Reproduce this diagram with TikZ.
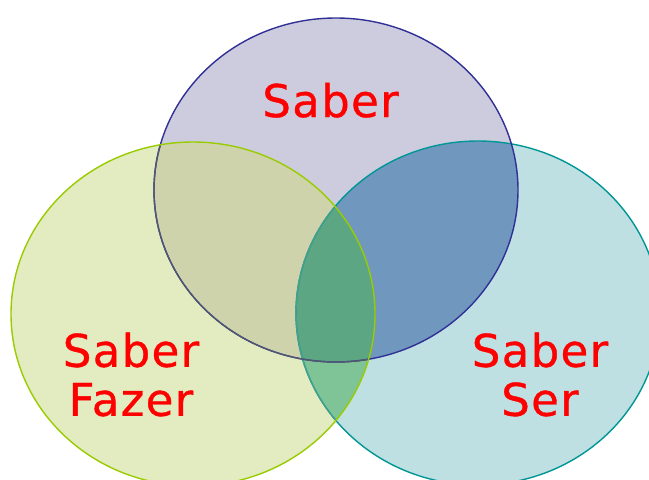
\documentclass[tikz,border=0pt]{standalone}
\usepackage{fontspec}
\setmainfont{DejaVu Sans}
\newfontfamily\setfont[LetterSpace=3,FakeBold=0.8]{DejaVu Sans}
% region fills
\definecolor{fillT}{RGB}{204,204,222}
\definecolor{fillL}{RGB}{227,235,192}
\definecolor{fillR}{RGB}{191,224,226}
\definecolor{fillTL}{RGB}{207,211,172}
\definecolor{fillTR}{RGB}{112,152,190}
\definecolor{fillLR}{RGB}{127,196,150}
\definecolor{fillTLR}{RGB}{92,166,132}
% rims
\definecolor{rimT}{RGB}{48,48,150}
\definecolor{rimL}{RGB}{153,204,0}
\definecolor{rimR}{RGB}{0,150,150}
\definecolor{rimTdim}{RGB}{80,88,112}
\definecolor{rimRdim}{RGB}{70,160,140}
\begin{document}
\begin{tikzpicture}[x=1pt,y=-1pt,
  setlabel/.style={text=red, font=\setfont\fontsize{45}{49}\selectfont, inner sep=0pt, align=center},
  rim/.style={line width=1.4pt}]
\useasboundingbox (0,0) rectangle (649,480);
\clip (0,0) rectangle (649,480);

\coordinate (ct) at (336,190);
\coordinate (cl) at (193,314);
\coordinate (cr) at (478,313);
\def\shapeT{(ct) ellipse [x radius=182, y radius=172]}
\def\shapeL{(cl) ellipse [x radius=182, y radius=172]}
\def\shapeR{(cr) ellipse [x radius=182, y radius=172]}

% single sets
\fill[fillT] \shapeT;
\fill[fillR] \shapeR;
\fill[fillL] \shapeL;
% pairwise overlaps
\begin{scope}\clip \shapeT; \fill[fillTL] \shapeL; \end{scope}
\begin{scope}\clip \shapeT; \fill[fillTR] \shapeR; \end{scope}
\begin{scope}\clip \shapeL; \fill[fillLR] \shapeR; \end{scope}
% centre
\begin{scope}\clip \shapeT; \clip \shapeL; \fill[fillTLR] \shapeR; \end{scope}

% outlines
\draw[rim, rimR] \shapeR;
\draw[rim, rimT] \shapeT;
\begin{scope}\clip \shapeL;
  \draw[rim, rimRdim] \shapeR;
  \draw[rim, rimTdim] \shapeT;
\end{scope}
\draw[rim, rimL] \shapeL;

% labels
\node[setlabel, anchor=base] (saber) at (330.5,117) {Saber};
\node[setlabel] (fazer) at (131,374.5) {Saber\\Fazer};
\node[setlabel] (ser) at (540,374.5) {Saber\\Ser};
\end{tikzpicture}
\end{document}
